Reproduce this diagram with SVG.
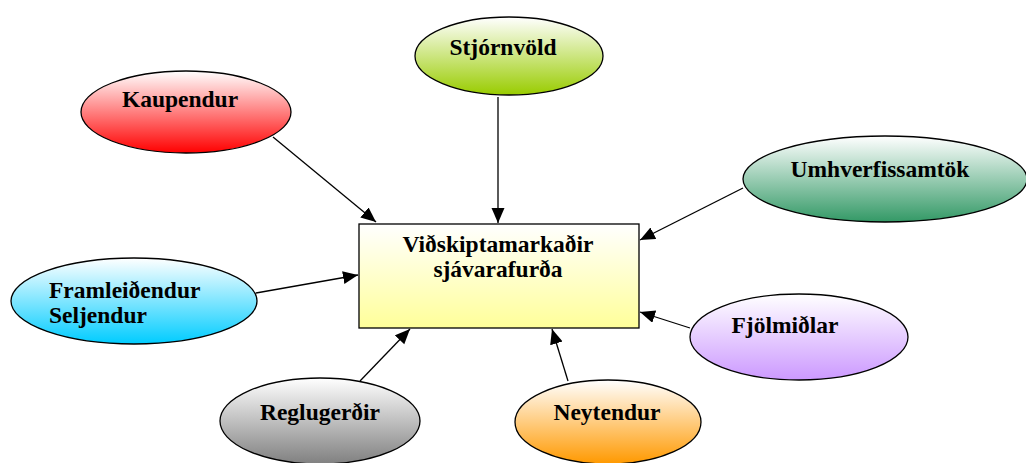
<svg xmlns="http://www.w3.org/2000/svg" width="1026" height="463" viewBox="0 0 1026 463">
  <style>
    .node { stroke: #000; stroke-width: 1.3; }
    .edge { stroke: #000; stroke-width: 1.3; fill: none; marker-end: url(#arrow); }
  </style>
  <defs>
    <marker id="arrow" markerUnits="userSpaceOnUse" markerWidth="16" markerHeight="14" refX="15" refY="6.5" orient="auto">
      <path d="M0,0 L15,6.5 L0,13 Z" fill="#000"/>
    </marker>
    <linearGradient id="gRed" x1="0" y1="0" x2="0" y2="1">
      <stop offset="0" stop-color="#ffffff"/><stop offset="1" stop-color="#ff0000"/>
    </linearGradient>
    <linearGradient id="gLime" x1="0" y1="0" x2="0" y2="1">
      <stop offset="0" stop-color="#ffffff"/><stop offset="1" stop-color="#99cc00"/>
    </linearGradient>
    <linearGradient id="gGreen" x1="0" y1="0" x2="0" y2="1">
      <stop offset="0" stop-color="#ffffff"/><stop offset="1" stop-color="#339966"/>
    </linearGradient>
    <linearGradient id="gCyan" x1="0" y1="0" x2="0" y2="1">
      <stop offset="0" stop-color="#ffffff"/><stop offset="1" stop-color="#00ccff"/>
    </linearGradient>
    <linearGradient id="gLilac" x1="0" y1="0" x2="0" y2="1">
      <stop offset="0" stop-color="#ffffff"/><stop offset="1" stop-color="#cc99ff"/>
    </linearGradient>
    <linearGradient id="gGray" x1="0" y1="0" x2="0" y2="1">
      <stop offset="0" stop-color="#ffffff"/><stop offset="1" stop-color="#808080"/>
    </linearGradient>
    <linearGradient id="gOrange" x1="0" y1="0" x2="0" y2="1">
      <stop offset="0" stop-color="#ffffff"/><stop offset="1" stop-color="#ff9900"/>
    </linearGradient>
    <linearGradient id="gYellow" x1="0" y1="0" x2="0" y2="1">
      <stop offset="0" stop-color="#ffffff"/><stop offset="1" stop-color="#ffff99"/>
    </linearGradient>
  </defs>

  <rect width="1026" height="463" fill="#ffffff"/>

  <g id="connectors">
    <line class="edge" x1="273" y1="137" x2="376" y2="222"/>
    <line class="edge" x1="498" y1="97" x2="498" y2="223"/>
    <line class="edge" x1="743" y1="188" x2="640" y2="240"/>
    <line class="edge" x1="256" y1="293" x2="358" y2="275"/>
    <line class="edge" x1="690" y1="328" x2="640" y2="312"/>
    <line class="edge" x1="360" y1="381" x2="410" y2="329"/>
    <line class="edge" x1="568" y1="381" x2="552" y2="329"/>
  </g>

  <g font-family="'Liberation Serif', 'DejaVu Serif', serif" font-weight="bold" font-size="23.5" fill="#000">
    <g id="market">
      <rect class="node" x="359" y="224" width="280" height="104" fill="url(#gYellow)"/>
      <text x="498" y="252" text-anchor="middle">Viðskiptamarkaðir</text>
      <text x="498" y="277" text-anchor="middle">sjávarafurða</text>
    </g>

    <g id="kaupendur">
      <ellipse class="node" cx="186" cy="112" rx="105" ry="41" fill="url(#gRed)"/>
      <text x="180" y="107" text-anchor="middle">Kaupendur</text>
    </g>

    <g id="stjornvold">
      <ellipse class="node" cx="509" cy="56" rx="94" ry="39" fill="url(#gLime)"/>
      <text x="503" y="55" text-anchor="middle">Stjórnvöld</text>
    </g>

    <g id="umhverfissamtok">
      <ellipse class="node" cx="885" cy="179" rx="142" ry="43" fill="url(#gGreen)"/>
      <text x="880" y="177" text-anchor="middle">Umhverfissamtök</text>
    </g>

    <g id="framleidendur">
      <ellipse class="node" cx="134" cy="301" rx="123" ry="43" fill="url(#gCyan)"/>
      <text x="49" y="298">Framleiðendur</text>
      <text x="49" y="323">Seljendur</text>
    </g>

    <g id="fjolmidlar">
      <ellipse class="node" cx="799" cy="337" rx="109" ry="43" fill="url(#gLilac)"/>
      <text x="785" y="333" text-anchor="middle">Fjölmiðlar</text>
    </g>

    <g id="reglugerdir">
      <ellipse class="node" cx="320" cy="421" rx="100" ry="43" fill="url(#gGray)"/>
      <text x="320" y="420" text-anchor="middle">Reglugerðir</text>
    </g>

    <g id="neytendur">
      <ellipse class="node" cx="608" cy="422" rx="93" ry="42" fill="url(#gOrange)"/>
      <text x="607" y="420" text-anchor="middle">Neytendur</text>
    </g>
  </g>
</svg>
